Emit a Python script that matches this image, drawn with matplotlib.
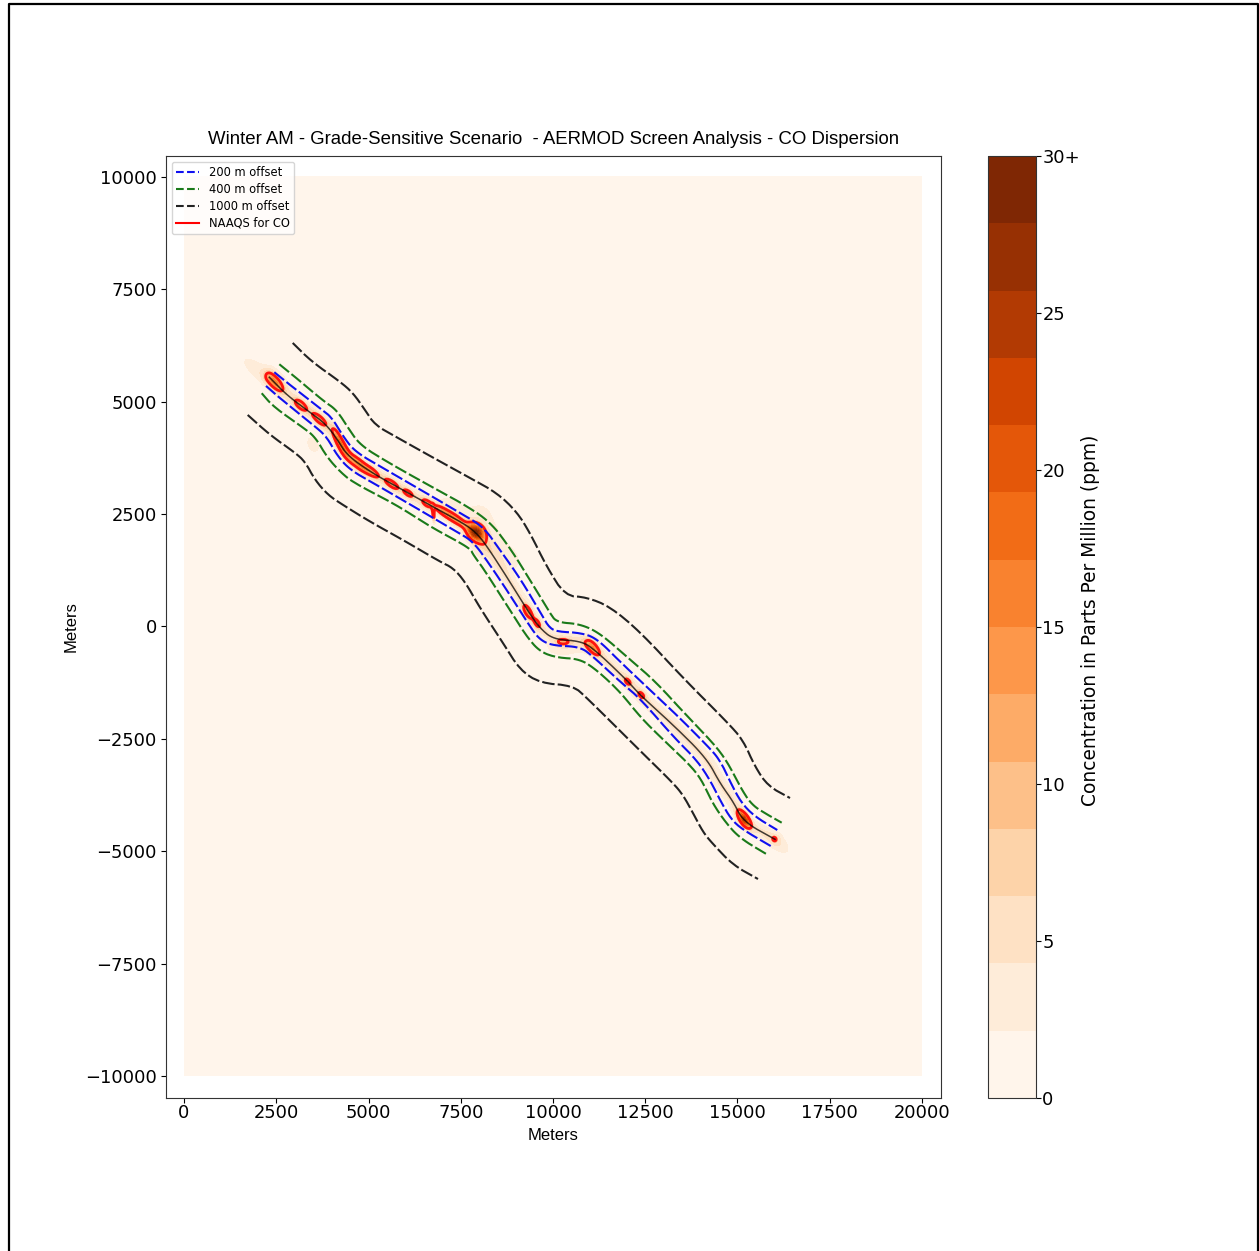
import numpy as np
import matplotlib
matplotlib.use("Agg")
import matplotlib.pyplot as plt
from matplotlib.lines import Line2D

center_x = [2312,2783,3325,3821,4138,4409,5041,5764,6667,7569,7886,8157,8745,9331,9648,10008,10732,11092,11997,12358,13260,14165,14526,14886,15157,16016]
center_y = [5545,5151,4817,4521,4187,3816,3444,3111,2703,2296,2109,1851,1108,329,-40,-285,-323,-485,-1190,-1524,-2192,-2933,-3489,-3898,-4343,-4735]

blue_up_x = [2447,2873,3686,4003,4317,4634,5401,6577,7480,8111,8564,9106,9648,9873,10100,10732,11184,11816,12629,13352,14165,14526,14843,15114,15474,16078]
blue_up_y = [5656,5373,4855,4655,4223,3889,3520,2964,2525,2221,1702,1072,329,-4,-116,-138,-263,-783,-1413,-1969,-2637,-2970,-3527,-3934,-4232,-4528]
blue_lo_x = [2222,2602,3504,3867,4138,4499,5222,6306,7390,7840,8293,8835,9377,9648,10008,10732,11092,11816,12358,13260,13894,14255,14572,14843,15157,15900]
blue_lo_y = [5351,5077,4483,4223,3816,3482,3148,2630,2109,1887,1368,701,-4,-300,-427,-449,-672,-1228,-1598,-2452,-2970,-3415,-3934,-4305,-4528,-4884]

green_up_x = [2583,3054,3767,4138,4453,4770,5493,6667,7569,8293,8835,9377,9919,10100,10732,11274,11997,12764,13523,14390,14742,15068,15385,15826,16198]
green_up_y = [5834,5522,5024,4817,4410,4038,3667,3126,2726,2332,1747,1035,294,93,56,-151,-672,-1213,-1896,-2637,-3037,-3564,-3972,-4194,-4365]
green_lo_x = [2106,2420,3190,3550,3867,4228,4588,5764,6667,7751,7840,8111,8745,9287,9648,10100,10732,11184,11816,12358,12900,13713,14030,14301,14661,15068,15826]
green_lo_y = [5189,4891,4446,4223,3778,3444,3200,2703,2221,1747,1591,1295,478,-227,-561,-694,-723,-968,-1451,-2007,-2452,-3082,-3415,-3898,-4343,-4713,-5084]

black_up_x = [2946,3461,4228,4580,4905,5176,5764,6667,7751,8482,9016,9377,9829,10325,10913,11545,12358,13577,14707,15149,15474,15826,16423]
black_up_y = [6308,5892,5447,5195,4817,4483,4210,3794,3304,2970,2554,2080,1331,685,650,440,-116,-1190,-2118,-2525,-3119,-3549,-3816]
black_lo_x = [1726,2331,3008,3279,3550,3902,4309,5041,5935,6938,7290,7615,8022,8645,9106,9648,10542,10921,12358,13252,13523,13794,14065,14309,14878,15555]
black_lo_y = [4706,4261,3867,3667,3260,2926,2703,2332,1925,1442,1302,997,412,-367,-968,-1257,-1317,-1591,-2763,-3482,-3749,-4150,-4572,-4817,-5307,-5618]

# Hot spots read along the road: position, ppm above the plume, half-length, half-width, bearing
hot_x = [2466,3162,3667,4170,4330,4723,5087,5628,6078,6577,7027,7390,7913,9314,9575,10271,11092,12024,12393,15184,15997,6761]
hot_y = [5425,4928,4610,4200,3950,3631,3444,3171,2964,2741,2554,2370,2096,329,71,-338,-485,-1228,-1524,-4290,-4728,2481]
hot_ppm = [8,8,8,8.5,8.5,8.5,7.5,8,7,7,7.5,8,22,9,6,6,10,6,6,20,6,9.5]
hot_len = [250,220,270,300,300,320,240,240,180,180,320,330,240,200,160,200,230,150,150,220,60,180]
hot_wid = [110,110,100,90,90,95,85,90,80,90,85,90,175,95,90,80,110,90,90,105,50,35]
hot_ang = [-40,-35,-35,-60,-55,-35,-30,-30,-30,-30,-30,-30,-20,-55,-55,0,-40,-40,-40,-50,-30,-85]

# Pale patches of the plume
patch_x = [1900,2450,3500,4700,7300,8050,8500,8900,10250,11000,16200,8000]
patch_y = [5750,5500,4050,3600,2700,2450,1850,1500,-520,-300,-4880,1750]
patch_ppm = [3.0,3.6,2.7,2.7,2.6,3.2,3.0,2.9,2.8,2.4,3.0,2.9]
patch_len = [500,420,350,500,500,420,420,300,550,300,320,350]
patch_wid = [200,250,250,200,200,330,280,230,180,170,200,230]
patch_ang = [-35,-35,-50,-35,-30,-30,-60,-60,0,0,-35,-60]

levels = np.linspace(0, 30, 15)
cbar_ticks = [0, 5, 10, 15, 20, 25, 30]
cbar_labels = ["0", "5", "10", "15", "20", "25", "30+"]

plt.rcParams["font.family"] = "DejaVu Sans"
fig = plt.figure(figsize=(12.59, 12.51), dpi=100)
W, H = 1259.0, 1251.0
ax = fig.add_axes([166 / W, 1 - 1098 / H, (941 - 166) / W, (1098 - 156) / H])
cax = fig.add_axes([988 / W, 1 - 1098 / H, (1036 - 988) / W, (1098 - 156) / H])

gx = np.arange(0, 20001, 25.0)
gy = np.arange(-10000, 10001, 25.0)
X, Y = np.meshgrid(gx, gy)


def rounded(xs, ys, passes=3):
    """Corner-cut the read points so the drawn line bends as softly as the reference."""
    p = np.column_stack([xs, ys], ).astype(float)
    for _ in range(passes):
        q = np.empty((2 * len(p), 2))
        q[0::2] = 0.75 * p + 0.25 * np.roll(p, -1, axis=0)
        q[1::2] = 0.25 * p + 0.75 * np.roll(p, -1, axis=0)
        q = q[:-2]
        p = np.vstack([p[0], q, p[-1]])
    return p[:, 0], p[:, 1]


# distance of each cell to the road
cx, cy = rounded(center_x, center_y)
seg = np.hypot(np.diff(cx), np.diff(cy))
arc = np.r_[0, np.cumsum(seg)]
s = np.linspace(0, arc[-1], 450)
rx, ry = np.interp(s, arc, cx), np.interp(s, arc, cy)
d2 = np.full(X.shape, 1e12)
for a, b in zip(rx, ry):
    d2 = np.minimum(d2, (X - a) ** 2 + (Y - b) ** 2)
Z = 4.6 * np.exp(-d2 / 170.0 ** 2)


def add_spots(xs, ys, ppm, ln, wd, ang):
    out = np.zeros(X.shape)
    for x0, y0, p, l, w, t in zip(xs, ys, ppm, ln, wd, ang):
        c, sn = np.cos(np.radians(t)), np.sin(np.radians(t))
        u = (X - x0) * c + (Y - y0) * sn
        v = -(X - x0) * sn + (Y - y0) * c
        out += p * np.exp(-(u / l) ** 2 - (v / w) ** 2)
    return out


Z = Z + add_spots(patch_x, patch_y, patch_ppm, patch_len, patch_wid, patch_ang)
Z = Z + add_spots(hot_x, hot_y, hot_ppm, hot_len, hot_wid, hot_ang)
Z = np.clip(Z, 0, 30)

cmap = plt.get_cmap("Oranges", 14)
cf = ax.contourf(X, Y, Z, levels=levels, cmap=cmap, vmin=0, vmax=30)
ax.contour(X, Y, Z, levels=[9], colors="red", linewidths=2.0, alpha=0.9)

DASH = (0, (6, 1.5))
ax.plot(cx, cy, color="black", lw=1.1, alpha=0.75)
ax.plot(*rounded(blue_up_x, blue_up_y), color="#1010f0", lw=1.5, ls=DASH)
ax.plot(*rounded(blue_lo_x, blue_lo_y), color="#1010f0", lw=1.5, ls=DASH)
ax.plot(*rounded(green_up_x, green_up_y), color="#1a7a1a", lw=1.5, ls=DASH)
ax.plot(*rounded(green_lo_x, green_lo_y), color="#1a7a1a", lw=1.5, ls=DASH)
ax.plot(*rounded(black_up_x, black_up_y, 2), color="#222222", lw=1.5, ls=DASH)
ax.plot(*rounded(black_lo_x, black_lo_y, 2), color="#222222", lw=1.5, ls=DASH)

ax.set_xlim(-488, 20515)
ax.set_ylim(-10490, 10467)
ax.set_xticks(np.arange(0, 20001, 2500))
ax.set_yticks(np.arange(-10000, 10001, 2500))
ax.tick_params(labelsize=12.9, length=3.5)
ax.tick_params(axis="x", pad=0.8)
ax.tick_params(axis="y", pad=3)
for sp in ax.spines.values():
    sp.set_edgecolor("#333333")

ax.set_title("Winter AM - Grade-Sensitive Scenario  - AERMOD Screen Analysis - CO Dispersion",
             family="Liberation Sans", fontsize=13.4, pad=9)
ax.set_xlabel("Meters", family="Liberation Sans", fontsize=12, labelpad=4)
ax.set_ylabel("Meters", family="Liberation Sans", fontsize=12, labelpad=5)

handles = [
    Line2D([], [], color="#1010f0", lw=1.5, ls="--", label="200 m offset"),
    Line2D([], [], color="#1a7a1a", lw=1.5, ls="--", label="400 m offset"),
    Line2D([], [], color="#222222", lw=1.5, ls="--", label="1000 m offset"),
    Line2D([], [], color="red", lw=1.5, label="NAAQS for CO"),
]
ax.legend(handles=handles, loc="upper left", fontsize=8.3, borderaxespad=0.5, labelspacing=0.33)

cb = fig.colorbar(cf, cax=cax, ticks=cbar_ticks)
cb.ax.set_yticklabels(cbar_labels)
cb.ax.tick_params(labelsize=12.9, length=3.5, pad=1)
cb.set_label("Concentration in Parts Per Million (ppm)", fontsize=13.45, labelpad=1, y=0.507)
cb.outline.set_edgecolor("#333333")

# screenshot frame
fig.add_artist(Line2D([9 / W, 9 / W, 1257.5 / W, 1257.5 / W],
                      [0, 1 - 3.5 / H, 1 - 3.5 / H, 0], color="black", lw=1.6))

fig.savefig("out.png", dpi=100)
